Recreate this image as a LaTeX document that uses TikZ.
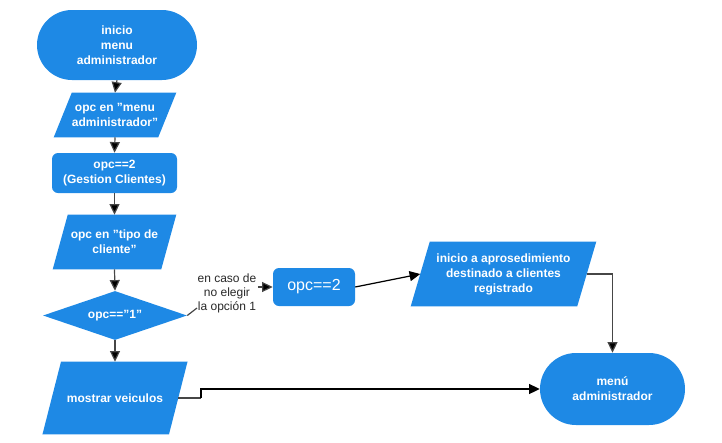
\documentclass[tikz,border=0pt]{standalone}
\usepackage{fontspec}
\setmainfont{Liberation Sans}
\usetikzlibrary{shapes.geometric,shapes.misc,arrows.meta,calc}
\definecolor{fb}{RGB}{30,137,229}
\definecolor{ln}{RGB}{70,70,70}
\definecolor{lbl}{RGB}{40,40,40}
\begin{document}
\begin{tikzpicture}[x=0.75pt,y=-0.75pt,
  txt/.style={text=white,font=\bfseries\fontsize{9}{11.2}\selectfont,align=center},
  term/.style={txt,rounded rectangle,fill=fb,inner sep=0pt},
  boxr/.style={txt,rectangle,rounded corners=4.5pt,fill=fb,inner sep=0pt},
  pbox/.style={txt,rectangle,inner sep=0pt},
  dia/.style={txt,diamond,aspect=2.9,fill=fb,inner sep=0pt},
  arr/.style={draw=ln,line width=0.9pt,-{Triangle[length=8pt,width=7.5pt,fill=black]}},
  con/.style={draw=ln,line width=0.9pt}]
\useasboundingbox (0,0) rectangle (722,443);
% parallelogram helper
\newcommand{\mypara}[2]{%
  \fill[fb] ($(#1.north west)+(#2/2,0)$) -- ($(#1.north east)+(#2/2,0)$) --
    ($(#1.south east)-(#2/2,0)$) -- ($(#1.south west)-(#2/2,0)$) -- cycle;}
% nodes
\node[term,minimum width=120pt,minimum height=52.5pt] (t1) at (117,45) {inicio\\menu\\ administrador};
\path (115,115) node[pbox,minimum width=78pt,minimum height=33pt] (p1) {};
\mypara{p1}{18}
\node[txt] at (p1) {opc en "menu\\administrador"};
\node[boxr,minimum width=93.75pt,minimum height=30pt] (b2) at (114.5,173) {opc==2\\(Gestion Clientes)};
\path (114.5,242) node[pbox,minimum width=81pt,minimum height=40.5pt] (p2) {};
\mypara{p2}{15}
\node[txt] at (p2) {opc en "tipo de\\cliente"};
\node[dia,minimum width=108pt,minimum height=36.75pt] (d) at (115,315.5) {opc=="1"};
\path (115,398) node[pbox,minimum width=94.5pt,minimum height=54pt] (p3) {};
\mypara{p3}{18.5}
\node[txt] at (p3) {mostrar veiculos};
\node[rectangle,rounded corners=4.5pt,fill=fb,text=white,inner sep=0pt,
  minimum width=61.5pt,minimum height=28.5pt,font=\fontsize{12}{14}\selectfont] (o2) at (314,287) {opc==2};
\path (503.5,274) node[pbox,minimum width=124.5pt,minimum height=48pt] (p4) {};
\mypara{p4}{19}
\node[txt] at (p4) {inicio a aprosedimiento\\destinado a clientes\\registrado};
\node[term,minimum width=108.75pt,minimum height=54pt] (t2) at (612.5,389) {menú\\administrador};
\node[text=lbl,font=\fontsize{9}{10.5}\selectfont,align=center,inner sep=1pt] (lab) at (227,293) {en caso de\\no elegir\\la opción 1};
\coordinate (lt) at (197,308);
\coordinate (k1) at (201,398);
\coordinate (k2) at (201,389);
% connectors
\draw[arr] (t1.south) -- (p1.north);
\draw[arr] (p1.south) -- (b2.north);
\draw[arr] (b2.south) -- (p2.north);
\draw[arr] (p2.south) -- (d.north);
\draw[arr] (d.south) -- (p3.north);
\draw[con] (d.east) -- (lt);
\draw[arr] (lab.east |- o2.west) -- (o2.west);
\draw[arr,draw=black] (o2.east) -- (p4.west);
\draw[arr] (p4.east) -| (t2.north);
\draw[con] (p3.east) -- (k1);
\draw[arr,draw=black] (k1) -- (k2) -- (t2.west);
\end{tikzpicture}
\end{document}
